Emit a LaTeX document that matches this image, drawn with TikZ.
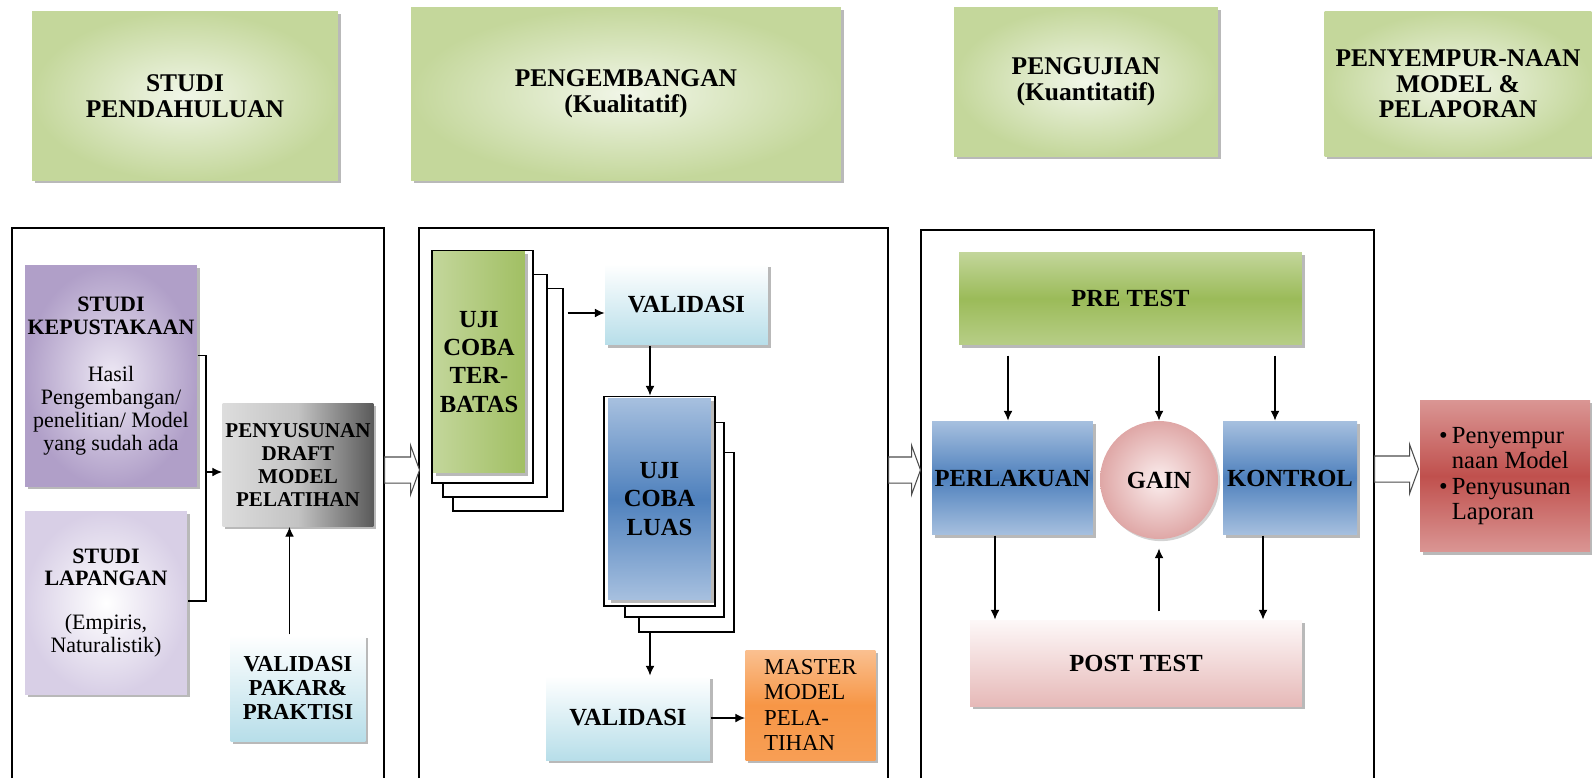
\documentclass[tikz,border=0pt]{standalone}
\usepackage{fontspec}
\setmainfont{Liberation Serif}
\usetikzlibrary{shadows,shapes.arrows,arrows.meta}
\definecolor{hdrgreen}{HTML}{C4D79B}
\definecolor{hdrlight}{HTML}{F1F6E8}
\definecolor{purpdark}{HTML}{B09FC8}
\definecolor{purplight}{HTML}{EDE8F4}
\definecolor{lavender}{HTML}{D8CFE6}
\definecolor{graydark}{HTML}{5A5A5A}
\definecolor{graylight}{HTML}{DDDDDD}
\definecolor{cyanlight}{HTML}{B7DEE9}
\definecolor{tbgreen}{HTML}{9BBB59}
\definecolor{tbgreenlight}{HTML}{C3D69B}
\definecolor{bluemid}{HTML}{4F81BD}
\definecolor{bluelight}{HTML}{A7C0DF}
\definecolor{orangemid}{HTML}{F79646}
\definecolor{orangelight}{HTML}{FAC090}
\definecolor{pinkmid}{HTML}{DFA7A6}
\definecolor{pinklight}{HTML}{FBEEEE}
\definecolor{pinkpost}{HTML}{E6B9B8}
\definecolor{redmid}{HTML}{C0504D}
\definecolor{redlight}{HTML}{DA9694}
\tikzset{
  shbox/.style={rectangle, inner sep=1pt, align=center,
    drop shadow={shadow xshift=1.6pt, shadow yshift=-1.6pt, opacity=.55}},
  hdr/.style={shbox, shading=radial, inner color=hdrlight, outer color=hdrgreen,
    font=\fontsize{14.5}{14.5}\selectfont\bfseries},
  sheet/.style={rectangle, draw, fill=white, line width=.6pt},
  hollow/.style={single arrow, draw=black!70, fill=white, inner xsep=0pt,
    inner ysep=.25cm, single arrow head extend=.23cm, single arrow tip angle=140},
  kepusfill/.style={shading=radial, inner color=purplight, outer color=purpdark},
  lapfill/.style={shading=radial, inner color=white, outer color=lavender},
  grayfill/.style={left color=graylight, right color=graydark, middle color=graylight!80!graydark},
  valfill/.style={top color=white, bottom color=cyanlight},
  tbfill/.style={left color=tbgreenlight, right color=tbgreen!85!tbgreenlight},
  pretfill/.style={top color=tbgreenlight, bottom color=tbgreenlight!70!tbgreen, middle color=tbgreen},
  bluefill/.style={top color=bluelight, bottom color=bluelight, middle color=bluemid},
  orgfill/.style={top color=orangelight, bottom color=orangemid!80!orangelight, middle color=orangemid},
  gainfill/.style={shading=radial, inner color=pinklight, outer color=pinkmid},
  postfill/.style={top color=pinklight!40!white, bottom color=pinkpost},
  redfill/.style={top color=redlight, bottom color=redlight, middle color=redmid},
  lfont/.style={font=\fontsize{12.5}{13}\selectfont},
  mfont/.style={font=\fontsize{14}{16}\selectfont\bfseries},
  >={Latex[length=5.5pt,width=5pt]},
}
\begin{document}
\begin{tikzpicture}[x=0.02cm, y=-0.02cm, line width=.6pt]
\useasboundingbox (0,0) rectangle (1592,778);

\node[hdr, minimum width=6.12cm, minimum height=3.38cm] (hStudi) at (185,96) {STUDI\\PENDAHULUAN};
\node[hdr, minimum width=8.6cm, minimum height=3.46cm] (hDev) at (626,94) {PENGEMBANGAN\\(Kualitatif)};
\node[hdr, minimum width=5.28cm, minimum height=2.98cm] (hTest) at (1086,82) {PENGUJIAN\\(Kuantitatif)};
\node[hdr, minimum width=5.34cm, minimum height=2.9cm] (hFinal) at (1458,84) {PENYEMPUR-NAAN\\MODEL \&\\PELAPORAN};

\draw (12,778) -- (12,228) -- (384,228) -- (384,778);
\draw (419,778) -- (419,228) -- (888,228) -- (888,778);
\draw (921,778) -- (921,230) -- (1374,230) -- (1374,778);

\node[shbox, kepusfill, lfont, minimum width=3.44cm, minimum height=4.42cm] (kepus) at (111,376)
  {\textbf{STUDI}\\\textbf{KEPUSTAKAAN}\\[14pt]Hasil\\Pengembangan/\\penelitian/ Model\\yang sudah ada};
\node[shbox, lapfill, lfont, minimum width=3.24cm, minimum height=3.66cm] (lapang) at (106,603)
  {\textbf{STUDI}\\\textbf{LAPANGAN}\\[12pt](Empiris,\\Naturalistik)};
\node[shbox, grayfill, font=\fontsize{12}{13}\selectfont\bfseries, minimum width=3.02cm, minimum height=2.46cm] (susun) at (298,465)
  {PENYUSUNAN\\DRAFT\\MODEL\\PELATIHAN};
\node[shbox, valfill, font=\fontsize{13}{13.5}\selectfont\bfseries, minimum width=2.7cm, minimum height=2.12cm] (vpakar) at (298,688)
  {VALIDASI\\PAKAR\&\\PRAKTISI};
\coordinate (brk) at (206,472);
\draw ([yshift=.41cm]kepus.east) -| (brk) |- ([yshift=.04cm]lapang.east);
\draw[->] (brk) -- (brk -| susun.west);
\draw[->] ([xshift=-.17cm]vpakar.north) -- ([xshift=-.17cm]susun.south);

\node[hollow, anchor=tail, minimum height=.7cm] (arrA) at (384,470) {};
\node[hollow, anchor=tail, minimum height=.64cm] (arrB) at (888,470) {};
\node[hollow, anchor=tail, minimum height=.88cm] (arrC) at (1374,469) {};

\node[sheet, minimum width=2.2cm, minimum height=4.46cm] (tbC) at (508,399.5) {};
\node[sheet, minimum width=2.08cm, minimum height=4.46cm] (tbB) at (495,385.5) {};
\node[sheet, minimum width=2.02cm, minimum height=4.66cm] (tbA) at (482.5,366.5) {};
\node[shbox, tbfill, mfont, minimum width=1.84cm, minimum height=4.44cm] (tb) at (479,362) {UJI\\COBA\\TER-\\BATAS};
\node[shbox, valfill, mfont, minimum width=3.26cm, minimum height=1.62cm] (val1) at (686.5,304.5) {VALIDASI};
\draw[->] ([xshift=.08cm, yshift=-.17cm]tbC.east |- val1.west) -- ([yshift=-.17cm]val1.west);

\node[sheet, minimum width=1.9cm, minimum height=3.6cm] (lsC) at (686.5,542) {};
\node[sheet, minimum width=1.98cm, minimum height=3.9cm] (lsB) at (674.5,519.5) {};
\node[sheet, minimum width=2.22cm, minimum height=4.2cm] (lsA) at (659.5,501) {};
\node[shbox, bluefill, mfont, minimum width=2.06cm, minimum height=4.04cm] (ls) at (659.5,499) {UJI\\COBA\\LUAS};
\draw[->] ([xshift=-.19cm]ls.north |- val1.south) -- ([xshift=-.19cm]lsA.north);

\node[shbox, valfill, mfont, minimum width=3.28cm, minimum height=1.68cm] (val2) at (628,718) {VALIDASI};
\node[shbox, orgfill, font=\fontsize{13}{14.5}\selectfont, align=left, minimum width=2.6cm, minimum height=2.2cm] (master) at (810.5,705)
  {MASTER\\MODEL\\PELA-\\TIHAN};
\draw[->] ([xshift=-.19cm]ls.north |- lsC.south) -- ([xshift=-.19cm]ls.north |- val2.north);
\draw[->] (val2.east) -- (val2.east -| master.west);

\node[shbox, pretfill, mfont, minimum width=6.86cm, minimum height=1.86cm] (preT) at (1130.5,298.5) {PRE TEST};
\node[shbox, bluefill, mfont, minimum width=3.22cm, minimum height=2.28cm] (perl) at (1012.5,478) {PERLAKUAN};
\node[circle, gainfill, mfont, inner sep=1pt, minimum size=2.36cm,
  drop shadow={shadow xshift=1.2pt, shadow yshift=-1.2pt, opacity=.35}] (gain) at (1159,480) {GAIN};
\node[shbox, bluefill, mfont, minimum width=2.68cm, minimum height=2.28cm] (kont) at (1290,478) {KONTROL};
\node[shbox, postfill, mfont, minimum width=6.64cm, minimum height=1.72cm] (postT) at (1136,663) {POST TEST};
\draw[->, shorten <=.2cm] ([xshift=-.09cm]perl.north |- preT.south) -- ([xshift=-.09cm]perl.north);
\draw[->, shorten <=.2cm] (gain.north |- preT.south) -- (gain.north);
\draw[->, shorten <=.2cm] ([xshift=-.3cm]kont.north |- preT.south) -- ([xshift=-.3cm]kont.north);
\draw[->] ([xshift=-.35cm]perl.south) -- ([xshift=-.35cm]perl.south |- postT.north);
\draw[->, shorten <=.16cm, shorten >=.18cm] (gain.south |- postT.north) -- (gain.south);
\draw[->] ([xshift=-.54cm]kont.south) -- ([xshift=-.54cm]kont.south |- postT.north);

\node[shbox, redfill, font=\fontsize{14}{14.5}\selectfont, align=left, minimum width=3.4cm, minimum height=3.04cm] (fin) at (1505,476)
  {\textbullet\,Penyempur\\\phantom{\textbullet\,}naan Model\\\textbullet\,Penyusunan\\\phantom{\textbullet\,}Laporan};
\end{tikzpicture}
\end{document}
